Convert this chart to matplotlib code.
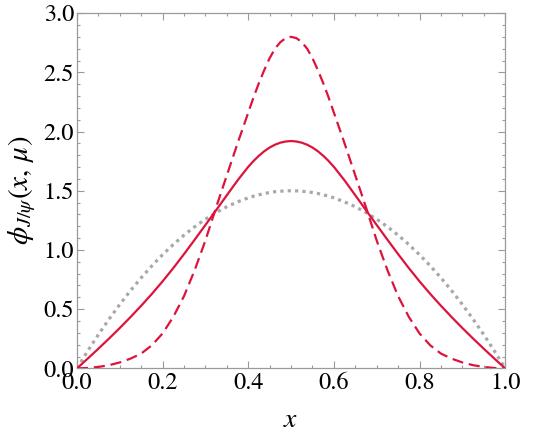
import matplotlib
matplotlib.use("Agg")
import matplotlib.pyplot as plt
from matplotlib.ticker import MultipleLocator

# momentum fraction grid (finer near the peak)
x_vals = [0.000, 0.025, 0.050, 0.075, 0.100, 0.125, 0.150, 0.175, 0.200, 0.225,
          0.250, 0.275, 0.300, 0.325, 0.350, 0.375, 0.400,
          0.4125, 0.425, 0.4375, 0.450, 0.4625, 0.475, 0.4875, 0.500,
          0.5125, 0.525, 0.5375, 0.550, 0.5625, 0.575, 0.5875, 0.600,
          0.625, 0.650, 0.675, 0.700, 0.725, 0.750, 0.775, 0.800, 0.825,
          0.850, 0.875, 0.900, 0.925, 0.950, 0.975, 1.000]

# solid red curve
phi_solid = [0.000, 0.082, 0.166, 0.252, 0.341, 0.433, 0.529, 0.629, 0.735, 0.847,
             0.965, 1.087, 1.211, 1.336, 1.462, 1.587, 1.702,
             1.752, 1.796, 1.834, 1.865, 1.889, 1.906, 1.916, 1.920,
             1.916, 1.906, 1.889, 1.865, 1.834, 1.796, 1.752, 1.702,
             1.587, 1.462, 1.336, 1.211, 1.087, 0.965, 0.847, 0.735, 0.629,
             0.529, 0.433, 0.341, 0.252, 0.166, 0.082, 0.000]

# dashed red curve
phi_dashed = [0.000, 0.003, 0.012, 0.027, 0.050, 0.082, 0.125, 0.195, 0.295, 0.435,
              0.610, 0.830, 1.080, 1.360, 1.630, 1.900, 2.160,
              2.290, 2.410, 2.520, 2.620, 2.700, 2.755, 2.789, 2.800,
              2.789, 2.755, 2.700, 2.620, 2.520, 2.410, 2.290, 2.160,
              1.900, 1.630, 1.360, 1.080, 0.830, 0.610, 0.435, 0.295, 0.195,
              0.125, 0.082, 0.050, 0.027, 0.012, 0.003, 0.000]

# dotted gray curve (asymptotic form)
phi_dotted = [0.000, 0.146, 0.285, 0.416, 0.540, 0.656, 0.765, 0.866, 0.960, 1.046,
              1.125, 1.196, 1.260, 1.316, 1.365, 1.406, 1.440,
              1.454, 1.466, 1.477, 1.485, 1.492, 1.496, 1.499, 1.500,
              1.499, 1.496, 1.492, 1.485, 1.477, 1.466, 1.454, 1.440,
              1.406, 1.365, 1.316, 1.260, 1.196, 1.125, 1.046, 0.960, 0.866,
              0.765, 0.656, 0.540, 0.416, 0.285, 0.146, 0.000]

x_ticks = [0.0, 0.2, 0.4, 0.6, 0.8, 1.0]
y_ticks = [0.0, 0.5, 1.0, 1.5, 2.0, 2.5, 3.0]

plt.rcParams['font.family'] = ['STIXGeneral', 'Liberation Serif', 'DejaVu Serif']
plt.rcParams['mathtext.fontset'] = 'stix'

fig = plt.figure(figsize=(5.42, 4.38), dpi=100)
ax = fig.add_axes([0.142, 0.159, 0.790, 0.811])

red = '#DC143C'
ax.plot(x_vals, phi_dotted, color='#A8A8A8', lw=2.3, linestyle=(0, (1, 1.3)),
        dash_capstyle='butt', zorder=2)
ax.plot(x_vals, phi_solid, color=red, lw=1.6, zorder=3)
ax.plot(x_vals, phi_dashed, color=red, lw=1.6, linestyle=(0, (5, 2.6)), zorder=3)

ax.set_xlim(0, 1)
ax.set_ylim(0, 3)
ax.set_xticks(x_ticks)
ax.set_yticks(y_ticks)
ax.set_xticklabels([f"{t:.1f}" for t in x_ticks])
ax.set_yticklabels([f"{t:.1f}" for t in y_ticks])
ax.xaxis.set_minor_locator(MultipleLocator(0.05))
ax.yaxis.set_minor_locator(MultipleLocator(0.1))

for s in ax.spines.values():
    s.set_color('#9A9A9A')
    s.set_linewidth(0.9)
ax.tick_params(which='both', direction='in', top=True, right=True,
               color='#9A9A9A', width=0.8, labelsize=17.5, labelcolor='black')
ax.tick_params(which='major', length=5)
ax.tick_params(which='minor', length=2.5)
ax.tick_params(axis='x', which='major', pad=3)
ax.tick_params(axis='y', which='major', pad=2)

ax.set_xlabel(r'$x$', fontsize=20, labelpad=10)
ax.set_ylabel(r'$\phi_{J/\psi}(x,\,\mu)$', fontsize=21, labelpad=4)

fig.savefig('out.png', dpi=100)
